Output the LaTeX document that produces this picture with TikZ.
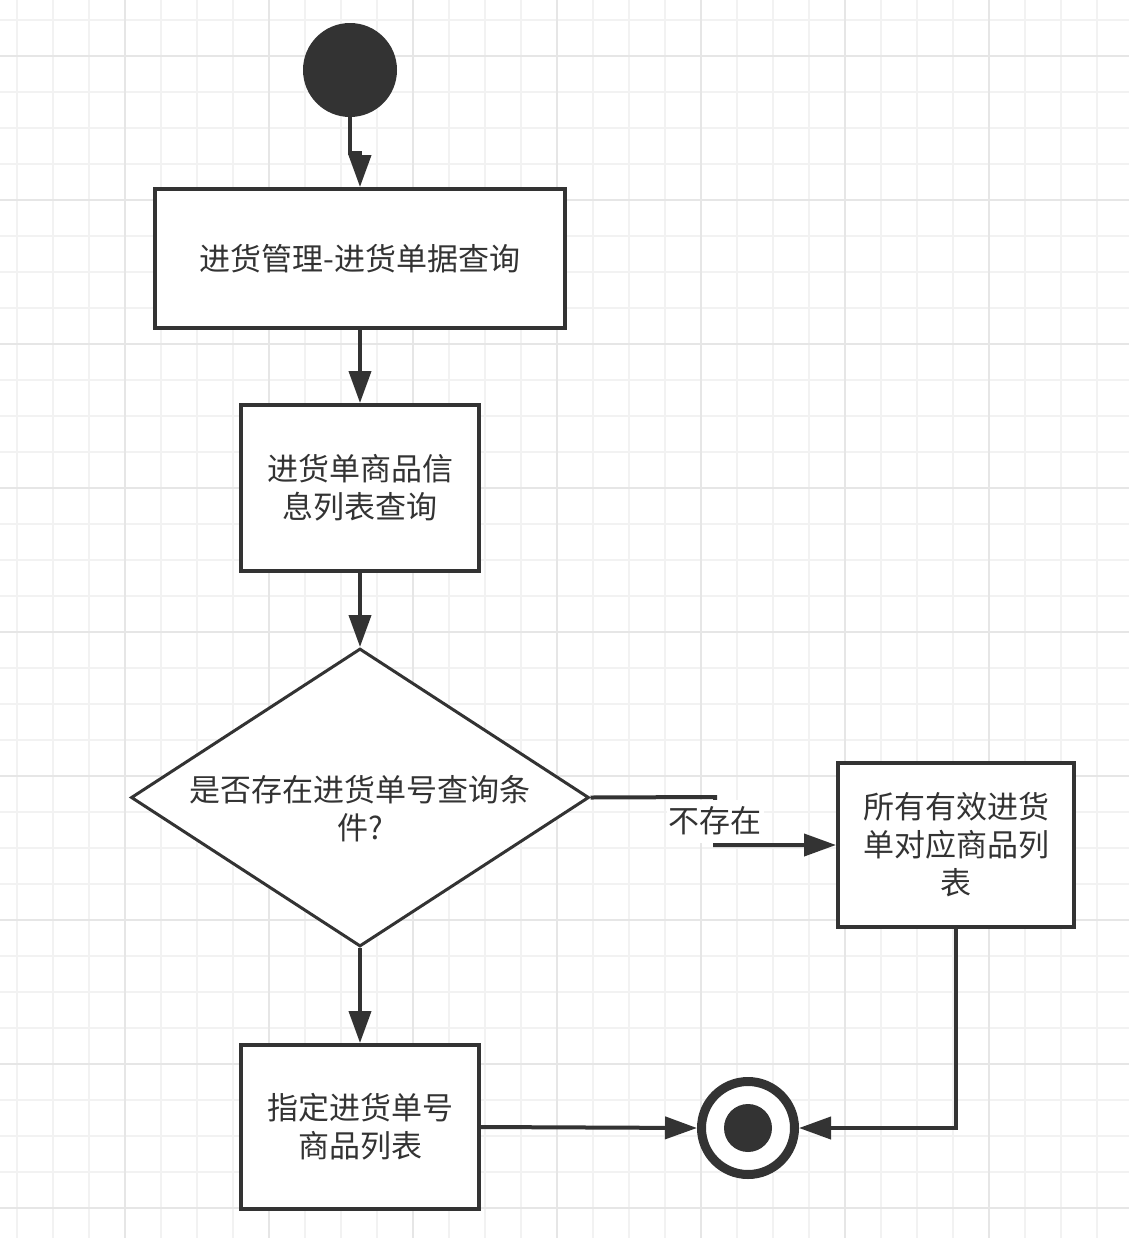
\documentclass[tikz,border=0pt]{standalone}
\usepackage{fontspec}
\setmainfont{Noto Sans CJK SC}
\usepackage{tikz}
\usetikzlibrary{shapes.geometric, arrows.meta, positioning}
\definecolor{cLine}{HTML}{333333}
\definecolor{cGrid}{HTML}{F2F2F2}
\definecolor{cGridMajor}{HTML}{E6E6E6}
\tikzset{
	act/.style     ={rectangle, draw=cLine, line width=2pt, align=center, text=cLine, fill=white, inner sep=2pt},
	choice/.style  ={diamond, draw=cLine, line width=1.5pt, minimum width=229pt, minimum height=149pt, inner sep=0pt, fill=white},
	initial/.style ={circle, fill=cLine, minimum size=47pt, inner sep=0pt},
	final/.style   ={circle, draw=cLine, line width=4.5pt, minimum size=46.5pt, inner sep=0pt, fill=white},
	sig/.style     ={-{Triangle[length=16pt, width=11pt]}, line width=2pt, draw=cLine},
	lbl/.style     ={fill=white, text=cLine, inner xsep=1pt, inner ysep=0pt, minimum height=21.5pt},
	% background grid
	gridln/.style  ={draw=cGrid, line width=0.75pt},
	gridmaj/.style ={draw=cGridMajor, line width=0.75pt},
}
\begin{document}
\begin{tikzpicture}[x=0.5pt, y=-0.5pt, font=\fontsize{15.5pt}{19pt}\selectfont]
	\fill[white] (0,0) rectangle (1129,1238);
	\useasboundingbox (0,0) rectangle (1129,1238);
	\foreach \gx in {17,53,...,1129} \draw[gridln] (\gx,0) -- (\gx,1238);
	\foreach \gy in {20,56,...,1238} \draw[gridln] (0,\gy) -- (1129,\gy);
	\foreach \gx in {125,269,...,1129} \draw[gridmaj] (\gx,0) -- (\gx,1238);
	\foreach \gy in {56,200,...,1238} \draw[gridmaj] (0,\gy) -- (1129,\gy);

	\node[initial] (start) at (350,70) {};
	\node[act, minimum width=205pt, minimum height=69.5pt] (query) at (360,258.5) {进货管理-进货单据查询};
	\node[act, below=36.5pt of query, minimum width=119pt, minimum height=83pt] (items) {进货单商品信\\息列表查询};
	\node[choice, below=37pt of items] (hasno) {};
	\node[text=cLine, align=center] (hasnotxt) at ([yshift=-5.5pt]hasno.center) {是否存在进货单号查询条\\件?};
	\node[act, below=47.5pt of hasno, minimum width=119pt, minimum height=82pt] (byno) {指定进货单号\\商品列表};
	\node[act, minimum width=118pt, minimum height=82pt] (all) at (956,845) {所有有效进货\\单对应商品列\\表};
	\node[final] (end) at (748,1128) {};
	\node[circle, fill=cLine, minimum size=24pt, inner sep=0pt] (enddot) at (end) {};

	\draw[sig] (start.south) -- ++(0,36) -| (query.north);
	\draw[sig] (query) -- (items);
	\draw[sig] (items) -- (hasno);
	\draw[sig] (hasno) -- (byno);
	\draw[sig] (hasno.east) -- (715,797) |- node[lbl, pos=0.25] {不存在} (all.west);
	\draw[sig] (byno.east) -- (end.west);
	\draw[sig] (all.south) |- (end.east);
\end{tikzpicture}
\end{document}
